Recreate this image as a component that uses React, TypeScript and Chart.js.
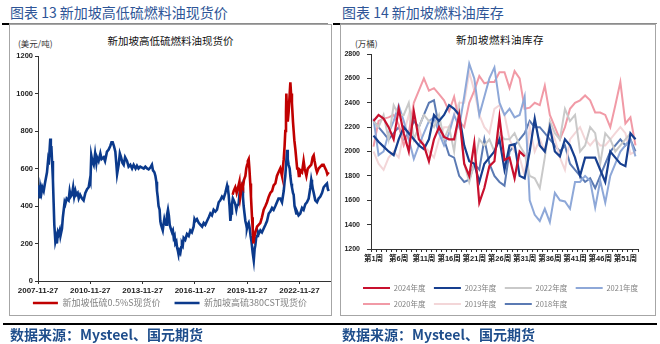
import React, { useEffect, useRef } from 'react';
import { Chart, registerables } from 'chart.js';
Chart.register(...registerables);

// ---------- Left chart data (新加坡高低硫燃料油现货价) ----------
const hsYears = [2007.90,2007.95,2008.00,2008.04,2008.10,2008.15,2008.23,2008.30,2008.42,2008.48,2008.52,2008.57,2008.61,2008.64,2008.67,2008.71,2008.76,2008.80,2008.84,2008.90,2008.95,2008.99,2009.05,2009.09,2009.15,2009.19,2009.28,2009.33,2009.38,2009.43,2009.47,2009.55,2009.66,2009.72,2009.78,2009.85,2009.92,2009.98,2010.05,2010.10,2010.18,2010.24,2010.32,2010.43,2010.52,2010.62,2010.72,2010.81,2010.88,2010.91,2010.96,2011.02,2011.10,2011.18,2011.25,2011.29,2011.38,2011.48,2011.55,2011.67,2011.75,2011.86,2011.95,2012.05,2012.12,2012.19,2012.26,2012.34,2012.40,2012.44,2012.53,2012.60,2012.67,2012.75,2012.82,2012.90,2013.01,2013.10,2013.20,2013.30,2013.39,2013.50,2013.58,2013.67,2013.77,2013.87,2013.97,2014.06,2014.16,2014.25,2014.35,2014.44,2014.50,2014.58,2014.64,2014.69,2014.73,2014.77,2014.82,2014.88,2014.92,2014.96,2015.06,2015.10,2015.15,2015.20,2015.25,2015.30,2015.36,2015.41,2015.46,2015.52,2015.59,2015.64,2015.69,2015.74,2015.78,2015.84,2015.88,2015.93,2015.97,2016.02,2016.07,2016.12,2016.16,2016.21,2016.26,2016.35,2016.45,2016.55,2016.64,2016.73,2016.83,2016.88,2016.93,2017.02,2017.12,2017.22,2017.32,2017.41,2017.50,2017.60,2017.70,2017.79,2017.88,2017.98,2018.08,2018.17,2018.27,2018.36,2018.46,2018.55,2018.65,2018.75,2018.80,2018.84,2018.89,2018.94,2018.98,2019.03,2019.08,2019.13,2019.22,2019.28,2019.32,2019.41,2019.46,2019.51,2019.56,2019.61,2019.66,2019.70,2019.75,2019.80,2019.85,2019.89,2019.94,2019.99,2020.05,2020.10,2020.15,2020.22,2020.28,2020.33,2020.37,2020.42,2020.47,2020.52,2020.56,2020.66,2020.75,2020.85,2020.95,2021.04,2021.14,2021.23,2021.33,2021.42,2021.52,2021.61,2021.70,2021.80,2021.90,2022.00,2022.05,2022.09,2022.15,2022.19,2022.23,2022.28,2022.34,2022.38,2022.43,2022.47,2022.53,2022.57,2022.62,2022.67,2022.72,2022.76,2022.85,2022.95,2023.05,2023.14,2023.24,2023.33,2023.43,2023.53,2023.58,2023.62,2023.67,2023.72,2023.81,2023.91,2024.00,2024.10,2024.20,2024.29,2024.38,2024.48,2024.53,2024.58];
const hsPrices = [470,510,440,500,470,500,480,520,580,640,620,700,760,680,720,640,540,420,300,210,230,200,260,250,270,240,280,340,380,420,410,440,430,480,450,460,500,450,480,460,470,440,460,440,430,470,490,500,540,530,670,640,620,680,630,660,640,680,650,660,640,690,700,720,740,740,720,690,620,570,620,680,660,630,620,660,640,610,620,600,620,600,615,600,610,605,600,610,600,595,605,620,590,580,560,530,480,450,400,380,320,300,270,300,330,310,300,350,380,350,300,280,260,270,230,240,200,210,180,160,140,160,150,180,200,190,230,220,250,240,270,260,290,330,320,330,310,300,290,310,300,320,340,360,350,380,370,380,420,430,450,440,470,510,490,460,400,320,360,410,440,430,410,380,400,410,460,490,480,500,450,400,360,320,300,280,300,310,280,240,210,150,110,170,190,230,240,260,250,270,260,280,300,320,360,370,390,380,400,420,440,440,420,480,530,560,640,700,650,620,600,560,520,500,470,460,400,380,360,370,350,360,390,380,410,420,440,500,540,520,490,470,430,420,440,450,470,500,510,520,490,480];
const lsYears = [2019.07,2019.13,2019.22,2019.30,2019.41,2019.46,2019.51,2019.56,2019.61,2019.66,2019.72,2019.80,2019.85,2019.90,2019.94,2019.99,2020.03,2020.08,2020.12,2020.18,2020.22,2020.26,2020.30,2020.37,2020.47,2020.56,2020.66,2020.75,2020.85,2020.95,2021.04,2021.14,2021.23,2021.33,2021.42,2021.52,2021.61,2021.70,2021.80,2021.85,2021.90,2022.00,2022.05,2022.09,2022.13,2022.15,2022.19,2022.23,2022.28,2022.33,2022.38,2022.42,2022.47,2022.53,2022.57,2022.61,2022.67,2022.72,2022.77,2022.82,2022.87,2022.91,2022.95,2023.05,2023.14,2023.20,2023.30,2023.38,2023.48,2023.58,2023.66,2023.72,2023.77,2023.85,2023.91,2024.00,2024.10,2024.20,2024.29,2024.38,2024.44,2024.50,2024.58];
const lsPrices = [460,480,500,470,510,530,450,480,510,500,540,560,600,620,640,650,600,520,450,340,280,200,230,260,290,300,310,340,380,400,420,450,470,480,510,520,560,580,600,580,560,650,720,800,900,1000,900,850,900,980,1060,1000,950,850,800,750,700,650,600,600,560,560,590,580,640,600,560,600,610,620,660,670,640,600,580,600,610,620,620,600,590,570,580];
const leftYTicks = [0, 200, 400, 600, 800, 1000, 1200];
const leftXTickValues = [2007.904, 2010.904, 2013.904, 2016.904, 2019.904, 2022.904];
const leftXTickLabels = ['2007-11-27', '2010-11-27', '2013-11-27', '2016-11-27', '2019-11-27', '2022-11-27'];

// ---------- Right chart data (新加坡燃料油库存, 万桶) ----------
const weeks = ['第1周','第2周','第3周','第4周','第5周','第6周','第7周','第8周','第9周','第10周','第11周','第12周','第13周','第14周','第15周','第16周','第17周','第18周','第19周','第20周','第21周','第22周','第23周','第24周','第25周','第26周','第27周','第28周','第29周','第30周','第31周','第32周','第33周','第34周','第35周','第36周','第37周','第38周','第39周','第40周','第41周','第42周','第43周','第44周','第45周','第46周','第47周','第48周','第49周','第50周','第51周','第52周','第53周'];
const s2024 = [2250,2300,2270,2200,2100,2350,2150,2000,2330,2100,2050,1920,2100,2200,2120,2100,2100,2300,1900,1800,2070,1580,1700,1880,1920,2280,1930,1950,1780,2000,1960];
const s2023 = [2130,2080,2040,2000,1970,2100,2200,2150,2100,2050,2020,2100,2300,2250,2300,2380,2350,2300,2050,1920,1900,1750,1900,1950,2000,2100,1850,2050,2060,1800,1780,2000,2270,2050,2000,2200,2000,1960,2100,2050,1950,1800,1950,1950,1950,1850,1750,2000,1950,1900,1880,2150,2100];
const s2022 = [2250,2200,2300,2100,2380,2300,2300,2400,2100,2200,2300,2250,2200,2300,2100,2200,2000,2350,1900,1750,1900,2100,2050,2100,2000,2150,2100,2100,2150,2050,1980,1800,1780,1700,1950,2250,2150,2100,2350,2250,2300,2000,2050,2200,2150,1900,2150,2100,2000,2050,2100,2150,2100];
const s2021 = [2270,1970,2000,2150,2250,2380,2250,2100,1940,2050,2150,2250,2280,2150,2050,2150,2300,2200,2450,2720,2600,2300,2450,2600,2690,2400,2300,2350,2280,2300,2450,1600,1480,1430,1530,1420,1660,1600,1590,1530,1750,1750,1800,1760,1540,1760,1580,1800,1900,2000,2050,2100,1960];
const s2020 = [2040,2250,2270,2280,2300,2220,2050,2150,2400,2500,2600,2500,2520,2470,2420,2330,2450,2250,2200,2400,2500,2620,2560,2570,2570,2650,2650,2520,2660,2600,2350,2360,2400,2380,2540,2300,2200,2100,2200,2350,2400,2420,2460,2420,2320,2320,2300,2200,2380,2570,2230,2280,2050];
const s2019 = [2000,1900,1850,1950,2000,1950,2150,2300,2100,2200,2050,2000,1950,2100,2200,2200,2300,2400,2400,2650,2500,2300,2200,2150,2350,2380,2300,2100,2000,1950,1800,2200,2000,2100,2000,2200,2100,1950,1850,2100,2150,2200,2100,2050,2100,2050,2050,2100,2150,2200,2150,1980,2000];
const s2018 = [2250,2200,2150,2100,2150,2200,2100,2150,2250,2200,2300,2400,2420,2200,2100,1970,1950,1800,1750,1770,1900,1850,2100,1900,1800,1750,1720,2000,2050,2100,2150,2250,2200,2200,2150,2100,2050,2000,2050,1900,1850,1800,1750,1780,1700,1800,1900,2000,2050,2100,2050,2100,2000];
const rightYTicks = [1200, 1400, 1600, 1800, 2000, 2200, 2400, 2600, 2800];

const RED = '#C00000';
const NAVY = '#0B3A8C';
const TICK_FONT = "'Liberation Sans', 'Noto Sans CJK SC', Arial, sans-serif";
const CJK_FONT = "'Noto Sans CJK SC', 'Liberation Sans', sans-serif";

// moves the legend box to a fixed place after layout
const legendPlace = {
  id: 'legendPlace',
  afterLayout(chart: any, _a: any, opts: any) {
    const lg = chart.legend;
    if (!lg || !opts) return;
    if (typeof opts.top === 'number') { const h = lg.height; lg.top = opts.top; lg.bottom = opts.top + h; }
    if (typeof opts.left === 'number') { const w = lg.width; lg.left = opts.left; lg.right = opts.left + w; }
  },
};

function LeftChart() {
  const ref = useRef<HTMLCanvasElement>(null);
  useEffect(() => {
    const chart = new Chart(ref.current as HTMLCanvasElement, {
      type: 'line',
      data: {
        datasets: [
          { label: '新加坡低硫0.5%S现货价', data: lsYears.map((x, i) => ({ x, y: lsPrices[i] })), borderColor: RED, backgroundColor: RED, borderWidth: 2.6, pointRadius: 0, tension: 0 },
          { label: '新加坡高硫380CST现货价', data: hsYears.map((x, i) => ({ x, y: hsPrices[i] })), borderColor: NAVY, backgroundColor: NAVY, borderWidth: 2.6, pointRadius: 0, tension: 0 },
        ],
      },
      plugins: [legendPlace],
      options: {
        responsive: false,
        animation: false,
        layout: { padding: { top: 31, right: 1, bottom: 0, left: 0 } },
        scales: {
          x: {
            type: 'linear',
            min: 2007.904,
            max: 2024.654,
            afterBuildTicks: (s: any) => { s.ticks = leftXTickValues.map((v) => ({ value: v })); },
            afterFit: (s: any) => { s.height = 16; },
            ticks: { callback: (_v: any, i: number) => leftXTickLabels[i], font: { family: TICK_FONT, size: 8, weight: 'bold' }, color: '#222', padding: 2, maxRotation: 0, autoSkip: false },
            grid: { drawOnChartArea: false, tickLength: 3, color: '#333' },
            border: { color: '#333' },
          },
          y: {
            min: 0,
            max: 1200,
            afterBuildTicks: (s: any) => { s.ticks = leftYTicks.map((v) => ({ value: v })); },
            afterFit: (s: any) => { s.width = 28; },
            ticks: { callback: (v: any) => String(v), font: { family: TICK_FONT, size: 7.5, weight: 'bold' }, color: '#222', padding: 2 },
            grid: { drawOnChartArea: false, tickLength: 3, color: '#333' },
            border: { color: '#333' },
          },
        },
        plugins: {
          legend: {
            position: 'bottom',
            labels: { usePointStyle: true, pointStyle: 'line', pointStyleWidth: 25, font: { family: CJK_FONT, size: 9 }, color: '#808080', padding: 14 },
          },
          legendPlace: { top: 259.5 },
          tooltip: { enabled: false },
        },
      } as any,
    });
    return () => chart.destroy();
  }, []);
  return <canvas ref={ref} width={321} height={305} style={{ position: 'absolute', left: 10, top: 25 }} />;
}

function RightChart() {
  const ref = useRef<HTMLCanvasElement>(null);
  useEffect(() => {
    const mk = (label: string, data: number[], color: string, w = 2) => ({ label, data, borderColor: color, backgroundColor: color, borderWidth: w, pointRadius: 0, tension: 0 });
    const chart = new Chart(ref.current as HTMLCanvasElement, {
      type: 'line',
      data: {
        labels: weeks,
        datasets: [
          mk('2024年度', s2024, '#C8102E', 2.2),
          mk('2023年度', s2023, '#173F8F', 2.2),
          mk('2022年度', s2022, '#C9C9C9'),
          mk('2021年度', s2021, '#8EA8D8'),
          mk('2020年度', s2020, '#F19AA6'),
          mk('2019年度', s2019, '#F3D6D8'),
          mk('2018年度', s2018, '#5B7AB3'),
        ],
      },
      plugins: [legendPlace],
      options: {
        responsive: false,
        animation: false,
        layout: { padding: { top: 29, right: 17, bottom: 13, left: 0 } },
        scales: {
          x: {
            offset: true,
            afterFit: (s: any) => { s.height = 16; },
            ticks: { callback: (_v: any, i: number) => (i % 5 === 0 ? weeks[i] : ''), font: { family: TICK_FONT, size: 7.5, weight: 'bold' }, color: '#222', padding: 2, maxRotation: 0, autoSkip: false },
            grid: { drawOnChartArea: false, offset: true, tickLength: 3, color: '#333' },
            border: { color: '#333' },
          },
          y: {
            min: 1200,
            max: 2800,
            afterBuildTicks: (s: any) => { s.ticks = rightYTicks.map((v) => ({ value: v })); },
            afterFit: (s: any) => { s.width = 30; },
            ticks: { callback: (v: any) => String(v), font: { family: TICK_FONT, size: 7, weight: 'bold' }, color: '#222', padding: 7 },
            grid: { drawOnChartArea: false, tickLength: 4, color: '#333' },
            border: { color: '#333' },
          },
        },
        plugins: {
          legend: {
            position: 'bottom',
            align: 'start',
            labels: { usePointStyle: true, pointStyle: 'line', pointStyleWidth: 27, font: { family: CJK_FONT, size: 7.5 }, color: '#808080', padding: 8.5 },
          },
          legendPlace: { top: 250.75, left: 13.5 },
          tooltip: { enabled: false },
        },
      } as any,
    });
    return () => chart.destroy();
  }, []);
  return <canvas ref={ref} width={314} height={295} style={{ position: 'absolute', left: 341, top: 25 }} />;
}

const titleColor = '#2E5597';
const srcColor = '#1F4E8C';

export default function App() {
  useEffect(() => { document.body.style.margin = '0'; }, []);
  const abs = (s: React.CSSProperties): React.CSSProperties => ({ position: 'absolute', whiteSpace: 'nowrap', ...s });
  return (
    <div style={{ position: 'relative', width: 660, height: 344, background: '#fff', overflow: 'hidden', fontFamily: CJK_FONT }}>
      <div style={abs({ left: 10, top: 2, fontSize: 14, lineHeight: '20px', color: titleColor })}>图表 13 新加坡高低硫燃料油现货价</div>
      <div style={abs({ left: 342, top: 2, fontSize: 14, lineHeight: '20px', color: titleColor })}>图表 14 新加坡燃料油库存</div>
      <div style={abs({ left: 2, top: 23, width: 326, height: 1, background: '#8c8c8c' })} />
      <div style={abs({ left: 2, top: 23, width: 7, height: 2, background: '#000' })} />
      <div style={abs({ left: 333, top: 23, width: 324, height: 1, background: '#8c8c8c' })} />
      <div style={abs({ left: 333, top: 23, width: 7, height: 2, background: '#000' })} />
      <div style={abs({ left: 9, top: 24, width: 323, height: 292, border: '1px solid #a6a6a6', boxSizing: 'border-box' })} />
      <div style={abs({ left: 340, top: 24, width: 316, height: 292, border: '1px solid #a6a6a6', boxSizing: 'border-box' })} />
      <div style={abs({ left: 9, width: 323, top: 33, textAlign: 'center', fontSize: 10.5, lineHeight: '16px', color: '#111' })}>新加坡高低硫燃料油现货价</div>
      <div style={abs({ left: 18, top: 37, fontSize: 8.5, lineHeight: '12px', color: '#333' })}>(美元/吨)</div>
      <div style={abs({ left: 340, width: 320, top: 32, textAlign: 'center', fontSize: 10.5, lineHeight: '16px', color: '#111', letterSpacing: 0.5 })}>新加坡燃料油库存</div>
      <div style={abs({ left: 355, top: 37, fontSize: 8.5, lineHeight: '12px', color: '#333' })}>(万桶)</div>
      <LeftChart />
      <RightChart />
      <div style={abs({ left: 3, top: 323, width: 654, height: 2, background: '#000' })} />
      <div style={abs({ left: 10, top: 325, fontSize: 14, lineHeight: '18px', color: srcColor, fontWeight: 'bold' })}>数据来源：Mysteel、国元期货</div>
      <div style={abs({ left: 342, top: 325, fontSize: 14, lineHeight: '18px', color: srcColor, fontWeight: 'bold' })}>数据来源：Mysteel、国元期货</div>
    </div>
  );
}
